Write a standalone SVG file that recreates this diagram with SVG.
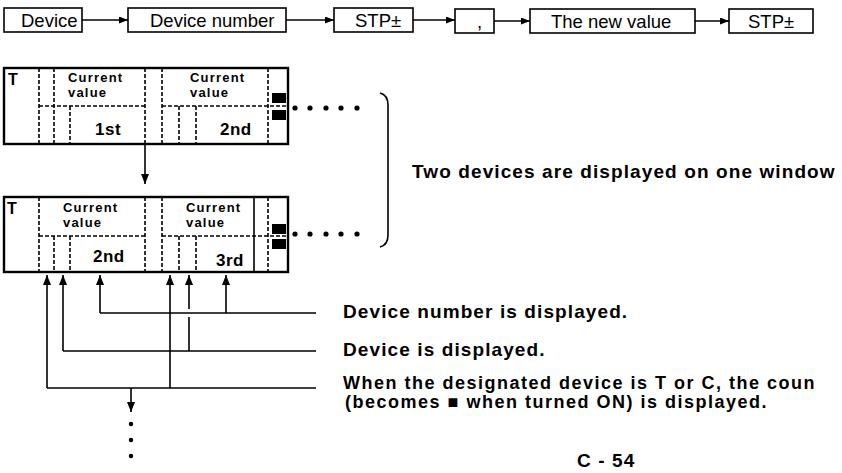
<svg xmlns="http://www.w3.org/2000/svg" width="842" height="473" viewBox="0 0 842 473">
<defs>
<marker id="ah" markerWidth="10" markerHeight="8" refX="10" refY="4" orient="auto" markerUnits="userSpaceOnUse"><path d="M0,0 L10,4 L0,8 z" fill="#000"/></marker>
<marker id="ahs" markerWidth="9" markerHeight="7" refX="9" refY="3.5" orient="auto" markerUnits="userSpaceOnUse"><path d="M0,0 L9,3.5 L0,7 z" fill="#000"/></marker>
</defs>
<style>
.box{fill:#fff;stroke:#000;stroke-width:1.6}
.t{font-family:"Liberation Sans",Arial,sans-serif;font-size:18.5px;fill:#000}
.win{fill:#fff;stroke:#000;stroke-width:2.4}
.d{stroke:#000;stroke-width:1.6;stroke-dasharray:4 2;fill:none}
.s{stroke:#000;stroke-width:1.6;fill:none}
.c{stroke:#000;stroke-width:1.6;fill:none}
.cv{font-family:"Liberation Sans",Arial,sans-serif;font-weight:bold;font-size:13px;letter-spacing:1.2px;fill:#000}
.num{font-family:"Liberation Sans",Arial,sans-serif;font-weight:bold;font-size:17px;letter-spacing:0.5px;fill:#000}
.tt{font-family:"Liberation Sans",Arial,sans-serif;font-weight:bold;font-size:16px;fill:#000}
.lbl{font-family:"Liberation Sans",Arial,sans-serif;font-weight:bold;font-size:19px;letter-spacing:1.1px;fill:#000}
.lbs{font-family:"Liberation Sans",Arial,sans-serif;font-weight:bold;font-size:18px;letter-spacing:1.5px;fill:#000}
.sq{fill:#000}
.dot{fill:#000}
</style>

<g id="n-device"><rect class="box" x="4" y="8" width="78" height="24"/><text class="t" x="21" y="27">Device</text></g>
<g id="n-devnum"><rect class="box" x="128" y="8" width="158" height="24"/><text class="t" x="150" y="27">Device number</text></g>
<g id="n-stp1"><rect class="box" x="334" y="8" width="79" height="24"/><text class="t" x="355" y="27">STP±</text></g>
<g id="n-comma"><rect class="box" x="455" y="9" width="39" height="24"/><text class="t" x="477" y="28">,</text></g>
<g id="n-newval"><rect class="box" x="530" y="9" width="165" height="24"/><text class="t" x="551" y="28">The new value</text></g>
<g id="n-stp2"><rect class="box" x="729" y="9" width="84" height="24"/><text class="t" x="748" y="28">STP±</text></g>

<g id="window1">
<rect class="win" x="4" y="68" width="284" height="76"/>
<path class="d" d="M39 68V144M54 68V144M70 106V144M145 68V144M162 68V144M179 106V144M196 106V144M268 68V144"/>
<path class="d" d="M39 106H145M162 106H288"/>
<text class="tt" x="8" y="85">T</text>
<text class="cv" x="68" y="82">Current</text>
<text class="cv" x="68" y="97">value</text>
<text class="cv" x="190" y="82">Current</text>
<text class="cv" x="190" y="97">value</text>
<text class="num" x="95" y="135">1st</text>
<text class="num" x="220" y="135">2nd</text>
<rect class="sq" x="272" y="93" width="14" height="10"/>
<rect class="sq" x="272" y="110" width="14" height="10"/>
<circle class="dot" cx="295" cy="108" r="2.6"/><circle class="dot" cx="310" cy="108" r="2.6"/><circle class="dot" cx="326" cy="108" r="2.6"/><circle class="dot" cx="341" cy="108" r="2.6"/><circle class="dot" cx="357" cy="108" r="2.6"/>
</g>

<g id="window2">
<rect class="win" x="4" y="197" width="284" height="75"/>
<path class="d" d="M39 197V272M54 236V272M70 236V272M145 197V272M162 197V272M179 236V272M196 236V272M268 197V272"/>
<path class="s" d="M254 197V272"/>
<path class="d" d="M39 236H145M162 236H288"/>
<text class="tt" x="7" y="214">T</text>
<text class="cv" x="63" y="212">Current</text>
<text class="cv" x="63" y="227">value</text>
<text class="cv" x="186" y="212">Current</text>
<text class="cv" x="186" y="227">value</text>
<text class="num" x="93" y="262">2nd</text>
<text class="num" x="216" y="266">3rd</text>
<rect class="sq" x="272" y="224" width="14" height="10"/>
<rect class="sq" x="272" y="239" width="14" height="10"/>
<circle class="dot" cx="295" cy="234" r="2.6"/><circle class="dot" cx="310" cy="234" r="2.6"/><circle class="dot" cx="326" cy="234" r="2.6"/><circle class="dot" cx="341" cy="234" r="2.6"/><circle class="dot" cx="357" cy="234" r="2.6"/>
</g>

<g id="note-two"><path class="s" d="M380 93Q388 95 388 105L388 235Q388 245 380 247"/><text class="lbl" x="412" y="178">Two devices are displayed on one window</text></g>
<g id="note-num"><text class="lbl" x="343" y="318">Device number is displayed.</text></g>
<g id="note-dev"><text class="lbl" x="343" y="356">Device is displayed.</text></g>
<g id="note-cnt"><text class="lbs" x="343" y="389">When the designated device is T or C, the coun</text><text class="lbs" x="345" y="408">(becomes ■ when turned ON) is displayed.</text></g>
<g id="page"><text class="lbl" x="577" y="467">C - 54</text></g>

<g id="connectors">
<path class="c" marker-end="url(#ahs)" d="M82 20H128"/>
<path class="c" marker-end="url(#ahs)" d="M286 20H334"/>
<path class="c" marker-end="url(#ahs)" d="M413 20H455"/>
<path class="c" marker-end="url(#ahs)" d="M494 21H530"/>
<path class="c" marker-end="url(#ahs)" d="M695 21H729"/>
<path class="c" marker-end="url(#ah)" d="M145 144V184"/>
<path class="c" d="M100 313H316M63 351H316M47 388H316"/>
<path class="c" marker-end="url(#ah)" d="M100 313V275"/>
<path class="c" marker-end="url(#ah)" d="M226 313V275"/>
<path class="c" marker-end="url(#ah)" d="M63 351V275"/>
<path class="c" marker-end="url(#ah)" d="M189 351V317M189 309V275"/>
<path class="c" marker-end="url(#ah)" d="M47 388V275"/>
<path class="c" marker-end="url(#ah)" d="M170 388V275"/>
<path class="c" marker-end="url(#ah)" d="M131 388V412"/>
<circle class="dot" cx="131" cy="424" r="2.2"/><circle class="dot" cx="131" cy="440" r="2.2"/><circle class="dot" cx="131" cy="456" r="2.2"/>
</g>
</svg>
